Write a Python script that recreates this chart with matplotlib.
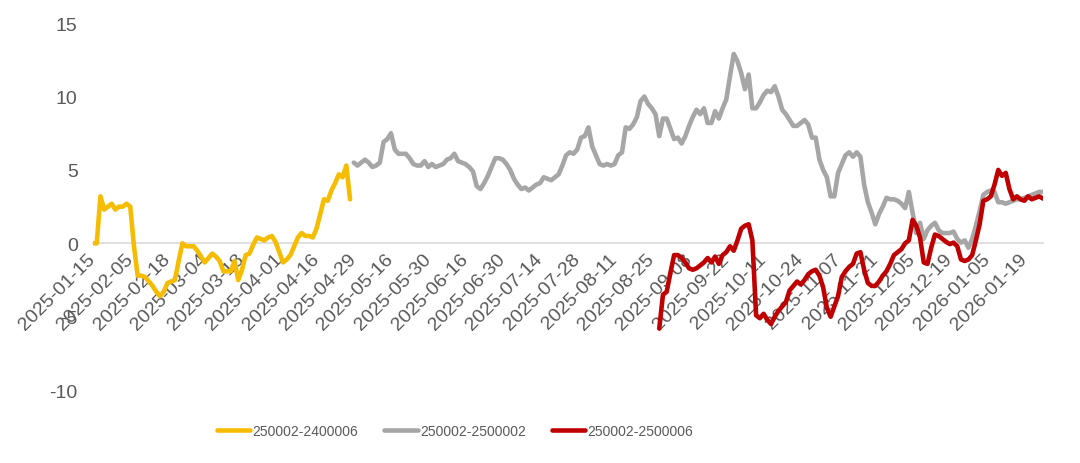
"""Spread series of three bond pairs over working days, 2025-01-15 to 2026-01."""

import matplotlib.pyplot as plt
import numpy as np

# one tick label every 10 working days, starting at index 0
TICK_LABELS = [
    "2025-01-15", "2025-02-05", "2025-02-18", "2025-03-04", "2025-03-18",
    "2025-04-01", "2025-04-16", "2025-04-29", "2025-05-16", "2025-05-30",
    "2025-06-16", "2025-06-30", "2025-07-14", "2025-07-28", "2025-08-11",
    "2025-08-25", "2025-09-08", "2025-09-22", "2025-10-11", "2025-10-24",
    "2025-11-07", "2025-11-21", "2025-12-05", "2025-12-19", "2026-01-05",
    "2026-01-19",
]
TICK_STEP = 10
N_DAYS = 256

SERIES_NAMES = ["250002-2400006", "250002-2500002", "250002-2500006"]
SERIES_COLORS = ["#F5BC00", "#A6A6A6", "#C00000"]

YELLOW_START = 0
YELLOW = [
    0.0, 0.0, 3.2, 2.3, 2.5, 2.7, 2.3, 2.5, 2.5, 2.7,
    2.5, -0.2, -2.2, -2.2, -2.3, -2.6, -2.9, -3.3, -3.6, -3.3,
    -2.7, -2.6, -2.5, -1.2, 0.0, -0.2, -0.2, -0.2, -0.5, -0.9,
    -1.3, -1.0, -0.7, -0.9, -1.2, -1.9, -1.9, -1.9, -1.2, -2.5,
    -1.8, -0.8, -0.7, -0.1, 0.4, 0.3, 0.2, 0.4, 0.5, 0.1,
    -0.6, -1.3, -1.1, -0.8, -0.2, 0.4, 0.7, 0.5, 0.5, 0.4,
    1.0, 2.0, 3.0, 2.9, 3.6, 4.1, 4.7, 4.5, 5.3, 3.0,
]

GRAY_START = 70
GRAY = [
    5.5, 5.3, 5.5, 5.7, 5.5, 5.2, 5.3, 5.5, 6.9, 7.1,
    7.5, 6.4, 6.1, 6.1, 6.1, 5.8, 5.4, 5.3, 5.3, 5.6,
    5.2, 5.4, 5.2, 5.3, 5.4, 5.7, 5.8, 6.1, 5.6, 5.5,
    5.4, 5.2, 4.9, 3.9, 3.7, 4.1, 4.6, 5.2, 5.8, 5.8,
    5.7, 5.4, 5.0, 4.4, 4.0, 3.7, 3.8, 3.6, 3.8, 4.0,
    4.1, 4.5, 4.4, 4.3, 4.5, 4.7, 5.3, 6.0, 6.2, 6.1,
    6.4, 7.2, 7.3, 7.9, 6.6, 6.0, 5.4, 5.3, 5.4, 5.3,
    5.4, 6.0, 6.2, 7.9, 7.8, 8.1, 8.6, 9.7, 10.0, 9.5,
    9.2, 8.8, 7.3, 8.5, 8.5, 7.8, 7.1, 7.2, 6.8, 7.3,
    8.0, 8.6, 9.1, 8.8, 9.2, 8.2, 8.2, 9.0, 8.5, 9.2,
    9.8, 11.4, 12.9, 12.4, 11.6, 10.5, 11.5, 9.2, 9.2, 9.6,
    10.1, 10.4, 10.3, 10.7, 10.0, 9.1, 8.8, 8.4, 8.0, 8.0,
    8.2, 8.4, 8.1, 7.2, 7.2, 5.7, 5.0, 4.5, 3.2, 3.2,
    4.8, 5.4, 6.0, 6.2, 5.9, 6.2, 5.9, 4.0, 2.8, 2.1,
    1.3, 2.0, 2.5, 3.1, 3.0, 3.0, 2.9, 2.7, 2.4, 3.5,
    2.1, 0.7, 1.4, 0.3, 0.9, 1.2, 1.4, 0.9, 0.7, 0.7,
    0.7, 0.8, 0.3, 0.05, 0.2, -0.3, 0.3, 1.2, 2.2, 3.3,
    3.5, 3.6, 3.5, 2.8, 2.8, 2.7, 2.8, 2.9, 3.0, 3.0,
    3.1, 3.2, 3.3, 3.4, 3.5, 3.5,
]

RED_START = 152
RED = [
    -5.8, -3.5, -3.3, -2.0, -0.8, -0.8, -1.0, -1.3, -1.7, -1.8,
    -1.7, -1.5, -1.3, -1.0, -1.3, -0.9, -1.4, -0.8, -0.6, -0.2,
    -0.5, 0.2, 1.0, 1.2, 1.3, 0.2, -4.9, -5.1, -4.8, -5.2,
    -5.5, -5.0, -4.6, -4.3, -4.0, -3.2, -2.9, -2.6, -2.8, -2.5,
    -2.1, -1.9, -1.8, -2.2, -3.0, -4.4, -5.0, -4.3, -3.6, -2.3,
    -1.9, -1.6, -1.4, -0.7, -0.6, -1.8, -2.7, -2.9, -2.9, -2.6,
    -2.2, -1.9, -1.4, -0.8, -0.6, -0.4, 0.0, 0.2, 1.6, 1.2,
    0.4, -1.3, -1.4, -0.3, 0.6, 0.5, 0.3, 0.1, -0.05, 0.05,
    -0.2, -1.1, -1.2, -1.1, -0.8, 0.2, 1.3, 2.9, 3.0, 3.2,
    4.0, 5.0, 4.6, 4.8, 3.7, 3.0, 3.2, 3.0, 2.9, 3.2,
    3.0, 3.1, 3.2, 3.05,
]

FONT = ["Liberation Sans", "DejaVu Sans"]
TEXT_COLOR = "#595959"


def main() -> None:
    plt.rcParams["font.family"] = FONT
    plt.rcParams["axes.unicode_minus"] = False

    fig = plt.figure(figsize=(10.8, 4.64), dpi=100)
    ax = fig.add_axes([0.0861, 0.157, 0.8796, 0.791])

    series = [(YELLOW_START, YELLOW), (GRAY_START, GRAY), (RED_START, RED)]
    for (start, values), name, color in zip(series, SERIES_NAMES, SERIES_COLORS):
        x = np.arange(start, start + len(values))
        ax.plot(x, values, color=color, lw=3.3, label=name,
                solid_joinstyle="round", solid_capstyle="round", zorder=3)

    ax.set_xlim(0, N_DAYS - 1)
    ax.set_ylim(-10, 15)
    ax.set_yticks(range(-10, 16, 5))
    ax.set_xticks(np.arange(len(TICK_LABELS)) * TICK_STEP)
    ax.set_xticklabels(TICK_LABELS)

    for side in ["top", "right", "left"]:
        ax.spines[side].set_visible(False)
    ax.spines["bottom"].set_position(("data", 0))
    ax.spines["bottom"].set_color("#D9D9D9")
    ax.spines["bottom"].set_linewidth(1.2)
    ax.spines["bottom"].set_zorder(1)

    ax.tick_params(axis="y", length=0, pad=11, labelsize=14, labelcolor=TEXT_COLOR)
    ax.tick_params(axis="x", length=0, pad=9, labelsize=14, labelcolor=TEXT_COLOR)
    for label in ax.get_xticklabels():
        label.set_rotation(45)
        label.set_ha("right")
        label.set_va("center")
        label.set_rotation_mode("anchor")

    fig.legend(loc="center", bbox_to_anchor=(455 / 1080, 1 - 432 / 464), ncol=3,
               frameon=False, fontsize=10, handlelength=2.4, handletextpad=0.15,
               columnspacing=1.9, labelcolor=TEXT_COLOR)

    fig.savefig("out.png", dpi=100)
    plt.close(fig)


if __name__ == "__main__":
    main()
